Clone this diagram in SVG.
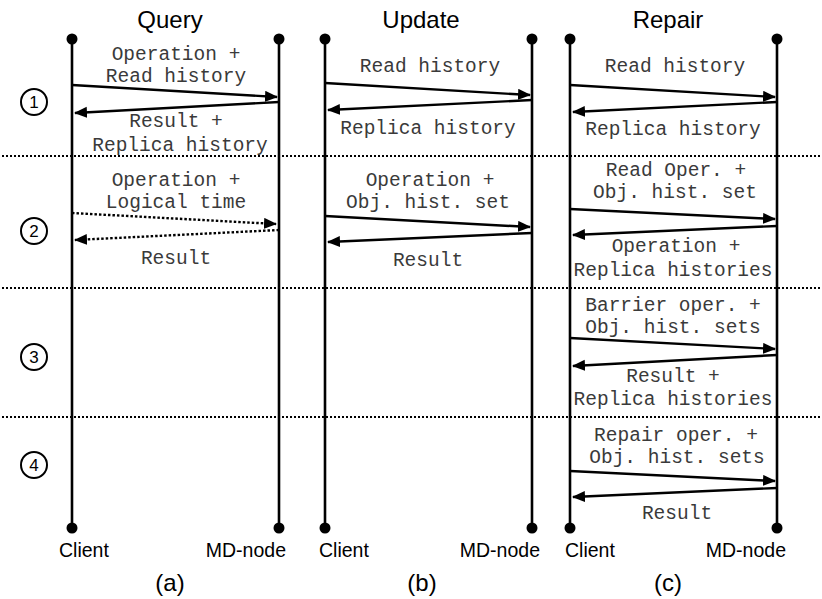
<svg xmlns="http://www.w3.org/2000/svg" width="822" height="599" viewBox="0 0 822 599">
  <style>
    .life { stroke: #000; stroke-width: 2.6; fill: none; }
    .end { fill: #000; }
    .msg { stroke: #000; stroke-width: 2.4; fill: none; marker-end: url(#head); }
    .dot { stroke-dasharray: 2.5 2; }
    .sep { stroke: #000; stroke-width: 2; stroke-dasharray: 2 2; fill: none; }
    .lbl { font-family: "Liberation Mono", "Courier New", monospace; font-size: 19.5px; fill: #3a3a3a; text-anchor: middle; }
    .title { font-family: "Liberation Sans", Arial, sans-serif; font-size: 24px; fill: #000; text-anchor: middle; }
    .role { font-family: "Liberation Sans", Arial, sans-serif; font-size: 19.5px; fill: #000; }
    .cap { font-family: "Liberation Sans", Arial, sans-serif; font-size: 24px; fill: #000; text-anchor: middle; }
    .step circle { fill: #fff; stroke: #000; stroke-width: 2; }
    .step text { font-family: "Liberation Sans", Arial, sans-serif; font-size: 17px; fill: #000; text-anchor: middle; }
  </style>
  <defs>
    <marker id="head" markerUnits="userSpaceOnUse" markerWidth="14" markerHeight="12" refX="12" refY="5.5" orient="auto">
      <path d="M0,0 L13,5.5 L0,11 z" fill="#000"/>
    </marker>
  </defs>

  <!-- phase separators -->
  <g id="separators">
    <line class="sep" x1="2" y1="156" x2="822" y2="156"/>
    <line class="sep" x1="2" y1="288" x2="822" y2="288"/>
    <line class="sep" x1="2" y1="417" x2="822" y2="417"/>
  </g>

  <!-- step numbers -->
  <g id="step1" class="step"><circle cx="34" cy="102" r="13"/><text x="34" y="108">1</text></g>
  <g id="step2" class="step"><circle cx="34" cy="231" r="13"/><text x="34" y="237">2</text></g>
  <g id="step3" class="step"><circle cx="34" cy="357" r="13"/><text x="34" y="363">3</text></g>
  <g id="step4" class="step"><circle cx="34" cy="465" r="13"/><text x="34" y="471">4</text></g>

  <!-- (a) Query -->
  <g id="query">
    <text class="title" x="170" y="28">Query</text>
    <g id="query-client">
      <line class="life" x1="72" y1="39" x2="72" y2="528"/>
      <circle class="end" cx="72" cy="39" r="5.5"/>
      <circle class="end" cx="72" cy="528" r="5.5"/>
      <text class="role" x="59" y="557">Client</text>
    </g>
    <g id="query-md">
      <line class="life" x1="279" y1="39" x2="279" y2="528"/>
      <circle class="end" cx="279" cy="39" r="5.5"/>
      <circle class="end" cx="279" cy="528" r="5.5"/>
      <text class="role" x="286" y="557" text-anchor="end">MD-node</text>
    </g>
    <text class="cap" x="170" y="591">(a)</text>
  </g>

  <!-- (b) Update -->
  <g id="update">
    <text class="title" x="421" y="28">Update</text>
    <g id="update-client">
      <line class="life" x1="325" y1="39" x2="325" y2="528"/>
      <circle class="end" cx="325" cy="39" r="5.5"/>
      <circle class="end" cx="325" cy="528" r="5.5"/>
      <text class="role" x="319" y="557">Client</text>
    </g>
    <g id="update-md">
      <line class="life" x1="532" y1="39" x2="532" y2="528"/>
      <circle class="end" cx="532" cy="39" r="5.5"/>
      <circle class="end" cx="532" cy="528" r="5.5"/>
      <text class="role" x="540" y="557" text-anchor="end">MD-node</text>
    </g>
    <text class="cap" x="422" y="591">(b)</text>
  </g>

  <!-- (c) Repair -->
  <g id="repair">
    <text class="title" x="668" y="28">Repair</text>
    <g id="repair-client">
      <line class="life" x1="570" y1="39" x2="570" y2="528"/>
      <circle class="end" cx="570" cy="39" r="5.5"/>
      <circle class="end" cx="570" cy="528" r="5.5"/>
      <text class="role" x="565" y="557">Client</text>
    </g>
    <g id="repair-md">
      <line class="life" x1="777" y1="39" x2="777" y2="528"/>
      <circle class="end" cx="777" cy="39" r="5.5"/>
      <circle class="end" cx="777" cy="528" r="5.5"/>
      <text class="role" x="786" y="557" text-anchor="end">MD-node</text>
    </g>
    <text class="cap" x="668" y="591">(c)</text>
  </g>

  <!-- messages -->
  <g id="connectors">
    <!-- Query -->
    <line class="msg" x1="72" y1="85" x2="277" y2="97"/>
    <line class="msg" x1="279" y1="102" x2="75" y2="113"/>
    <line class="msg dot" x1="72" y1="213" x2="276" y2="224"/>
    <line class="msg dot" x1="279" y1="230" x2="75" y2="240"/>
    <!-- Update -->
    <line class="msg" x1="325" y1="83" x2="530" y2="95"/>
    <line class="msg" x1="532" y1="100" x2="328" y2="110"/>
    <line class="msg" x1="325" y1="216" x2="530" y2="227"/>
    <line class="msg" x1="532" y1="233" x2="328" y2="242"/>
    <!-- Repair -->
    <line class="msg" x1="570" y1="85" x2="775" y2="97"/>
    <line class="msg" x1="777" y1="102" x2="573" y2="112"/>
    <line class="msg" x1="570" y1="209" x2="775" y2="219"/>
    <line class="msg" x1="777" y1="226" x2="573" y2="235"/>
    <line class="msg" x1="570" y1="338" x2="775" y2="349"/>
    <line class="msg" x1="777" y1="355" x2="573" y2="366"/>
    <line class="msg" x1="570" y1="471" x2="775" y2="481"/>
    <line class="msg" x1="777" y1="488" x2="573" y2="497"/>
  </g>

  <!-- message labels -->
  <g id="labels">
    <text class="lbl" x="176" y="60">Operation +</text>
    <text class="lbl" x="176" y="82">Read history</text>
    <text class="lbl" x="176" y="127">Result +</text>
    <text class="lbl" x="180" y="151">Replica history</text>
    <text class="lbl" x="176" y="186">Operation +</text>
    <text class="lbl" x="176" y="208">Logical time</text>
    <text class="lbl" x="176" y="264">Result</text>

    <text class="lbl" x="430" y="72">Read history</text>
    <text class="lbl" x="428" y="134">Replica history</text>
    <text class="lbl" x="430" y="186">Operation +</text>
    <text class="lbl" x="428" y="208">Obj. hist. set</text>
    <text class="lbl" x="428" y="266">Result</text>

    <text class="lbl" x="675" y="72">Read history</text>
    <text class="lbl" x="673" y="135">Replica history</text>
    <text class="lbl" x="676" y="176">Read Oper. +</text>
    <text class="lbl" x="675" y="198">Obj. hist. set</text>
    <text class="lbl" x="676" y="252">Operation +</text>
    <text class="lbl" x="673" y="276">Replica histories</text>
    <text class="lbl" x="673" y="311">Barrier oper. +</text>
    <text class="lbl" x="673" y="333">Obj. hist. sets</text>
    <text class="lbl" x="673" y="382">Result +</text>
    <text class="lbl" x="673" y="405">Replica histories</text>
    <text class="lbl" x="676" y="441">Repair oper. +</text>
    <text class="lbl" x="677" y="463">Obj. hist. sets</text>
    <text class="lbl" x="677" y="519">Result</text>
  </g>
</svg>
